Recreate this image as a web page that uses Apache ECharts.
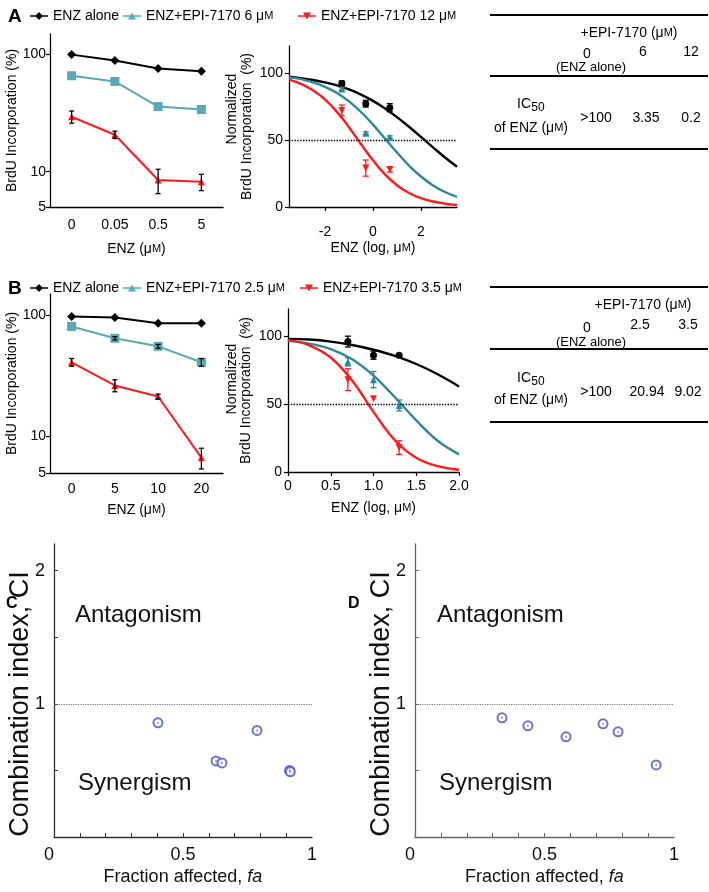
<!DOCTYPE html>
<html><head><meta charset="utf-8">
<script src="https://cdn.jsdelivr.net/npm/echarts@6/dist/echarts.min.js"></script>
<style>html,body{margin:0;padding:0;background:#fff}#c{width:709px;height:892px}</style>
</head><body><div id="c"></div>
<script>
const FONT = 'Liberation Sans, Arial, sans-serif';
// ---------- Panel A ----------
const aDoseLabels = ['0', '0.05', '0.5', '5'];
const aAloneLeft = [100, 89, 76, 72];
const aEpi6Left = [66, 59, 36, 34];
const aEpi12Left = [29.5, 20.7, 8.5, 8.2];
const aEpi12LeftErr = [3.5, 1.5, 2, 1.3];
const aLogDose = [-1.3, -0.3, 0.7];
const aAloneNorm = [92, 77, 74];
const aAloneNormErr = [2, 2.5, 3];
const aEpi6Norm = [88, 55, 52];
const aEpi6NormErr = [1, 1, 1];
const aEpi12Norm = [72, 29, 28];
const aEpi12NormErr = [4, 6, 2];
const aCurveX = [-3.5, -3, -2.5, -2, -1.5, -1, -0.5, 0, 0.5, 1, 1.5, 2, 2.5, 3, 3.5];
const aAloneCurve = [97.1, 96.1, 94.7, 92.9, 90.6, 87.6, 83.8, 79.1, 73.5, 67.0, 59.8, 52.2, 44.4, 36.9, 30.0];
const aEpi6Curve = [96.8, 95.3, 92.9, 89.6, 85.0, 78.7, 70.8, 61.4, 51.0, 40.6, 30.9, 22.7, 16.1, 11.2, 7.6];
const aEpi12Curve = [94.9, 91.8, 87.0, 80.2, 70.9, 59.5, 46.9, 34.8, 24.3, 16.2, 10.4, 6.6, 4.1, 2.5, 1.5];
const aTicksX = [-2, 0, 2];
// ---------- Panel B ----------
const bDoseLabels = ['0', '5', '10', '20'];
const bAloneLeft = [98, 96, 86, 86];
const bEpi25Left = [81, 64.6, 55.5, 41];
const bEpi25LeftErr = [0, 2, 2, 3];
const bEpi35Left = [41, 26.4, 21.4, 6.7];
const bEpi35LeftErr = [3, 3, 1, 1.3];
const bLogDose = [0.7, 1.0, 1.3];
const bAloneNorm = [96, 86, 86];
const bAloneNormErr = [4, 3, 1];
const bEpi25Norm = [81, 68, 49];
const bEpi25NormErr = [3, 6, 4];
const bEpi35Norm = [68, 54, 18];
const bEpi35NormErr = [8, 0, 5];
const bCurveX = [0, 0.25, 0.5, 0.75, 1, 1.25, 1.5, 1.75, 2];
const bAloneCurve = [98, 97.5, 96, 93.5, 90, 85.5, 79.5, 72, 63];
const bEpi25Curve = [96.5, 94.5, 90.5, 83, 71, 55, 38, 23, 13];
const bEpi35Curve = [97.3, 93.3, 84.3, 67.4, 44.3, 23.4, 10.5, 4.3, 1.7];
const bTicksX = [0, 0.5, 1, 1.5, 2];
// ---------- Log-axis & norm ticks ----------
const logTicks = [5, 10, 100];
const normTicks = [0, 50, 100];
// ---------- Panels C / D ----------
const cFa = [0.403, 0.628, 0.651, 0.787, 0.913, 0.916];
const cCI = [0.857, 0.571, 0.556, 0.80, 0.50, 0.49];
const dFa = [0.336, 0.436, 0.583, 0.726, 0.784, 0.931];
const dCI = [0.895, 0.835, 0.752, 0.85, 0.79, 0.541];
const ciLabelTicks = [1, 2];
const ciTicks = [0.5, 1, 1.5, 2];
const faLabelTicks = [0, 0.5, 1];
const faTicks = [0.1, 0.2, 0.3, 0.4, 0.5, 0.6, 0.7, 0.8, 0.9];
// ---------- Tables ----------
const aTableConc = ['0', '6', '12'];
const aTableIC50 = ['>100', '3.35', '0.2'];
const bTableConc = ['0', '2.5', '3.5'];
const bTableIC50 = ['>100', '20.94', '9.02'];

const NAMES = {
  alone: 'ENZ alone',
  a6: 'ENZ+EPI-7170 6 μM',
  a12: 'ENZ+EPI-7170 12 μM',
  b25: 'ENZ+EPI-7170 2.5 μM',
  b35: 'ENZ+EPI-7170 3.5 μM'
};
const BLACK = '#000', TEAL_L = '#58a9b5', TEAL = '#2d8797', RED = '#ff1a1a', BLUE = '#4c4cd2';
const RICH = { m: { fontSize: 11, fontFamily: FONT, color: '#000' }, i: { fontSize: 18, fontStyle: 'italic', fontFamily: FONT, color: '#111' } };
const mu = s => s.replace('μM', 'μ{m|M}');

const chart = echarts.init(document.getElementById('c'));

function zip(xs, ys) { return ys.map((v, i) => [xs[i], v]); }
function idx(n) { return Array.from({ length: n }, (_, i) => i); }

function errSeries(xi, xs, ys, es, color, cap) {
  const data = [];
  ys.forEach((v, i) => { if (es[i] > 0) data.push([xs[i], v - es[i], v + es[i]]); });
  return {
    type: 'custom', xAxisIndex: xi, yAxisIndex: xi, data, z: 4, silent: true,
    encode: { x: 0, y: [1, 2] },
    renderItem(params, api) {
      const x = api.value(0), lo = api.value(1), hi = api.value(2);
      const a = api.coord([x, hi]), b = api.coord([x, lo]);
      const st = { stroke: color, lineWidth: 1.3 };
      return { type: 'group', children: [
        { type: 'line', shape: { x1: a[0], y1: a[1], x2: b[0], y2: b[1] }, style: st },
        { type: 'line', shape: { x1: a[0] - cap, y1: a[1], x2: a[0] + cap, y2: a[1] }, style: st },
        { type: 'line', shape: { x1: b[0] - cap, y1: b[1], x2: b[0] + cap, y2: b[1] }, style: st }
      ] };
    }
  };
}
function leftLine(xi, name, data, color, symbol, size) {
  return { type: 'line', name, xAxisIndex: xi, yAxisIndex: xi, data, symbol, symbolSize: size,
    itemStyle: { color }, lineStyle: { color, width: 2 }, z: 3 };
}
function curve(xi, name, xs, ys, color) {
  return { type: 'line', name, xAxisIndex: xi, yAxisIndex: xi, data: zip(xs, ys), smooth: 0.4,
    showSymbol: false, symbol: 'none', itemStyle: { color }, lineStyle: { color, width: 2.4 }, z: 2 };
}
function pts(xi, name, xs, ys, color, symbol, size, rot) {
  return { type: 'scatter', name, xAxisIndex: xi, yAxisIndex: xi, data: zip(xs, ys), symbol, symbolSize: size,
    symbolRotate: rot || 0, itemStyle: { color, opacity: 1 }, z: 5 };
}

const axisLine = { show: true, onZero: false, lineStyle: { color: '#000', width: 1.3 } };
const txt = { fontSize: 14, fontFamily: FONT, color: '#000' };

function catX(gi, labels, margin, gap) {
  return { type: 'category', gridIndex: gi, data: labels, boundaryGap: true, axisLine,
    axisTick: { show: false }, axisLabel: Object.assign({ margin, interval: 0 }, txt), splitLine: { show: false },
    name: 'ENZ (μ{m|M})', nameLocation: 'middle', nameGap: gap, nameTextStyle: Object.assign({ rich: RICH }, txt) };
}
function logY(gi) {
  return { type: 'log', gridIndex: gi, logBase: 10, min: 5, max: 150, axisLine,
    axisTick: { show: true, length: 4, customValues: logTicks, lineStyle: { color: '#000', width: 1.2 } },
    axisLabel: Object.assign({ margin: 4, customValues: logTicks }, txt), splitLine: { show: false }, minorTick: { show: false },
    name: 'BrdU Incorporation (%)', nameLocation: 'middle', nameGap: 31, nameTextStyle: txt };
}
function valX(gi, min, max, ticks, margin, gap, fmt) {
  return { type: 'value', gridIndex: gi, min, max, axisLine,
    axisTick: { show: true, length: 4, customValues: ticks, lineStyle: { color: '#000', width: 1.2 } },
    axisLabel: Object.assign({ margin, customValues: ticks, formatter: fmt }, txt), splitLine: { show: false },
    name: 'ENZ (log, μ{m|M})', nameLocation: 'middle', nameGap: gap, nameTextStyle: Object.assign({ rich: RICH }, txt) };
}
function normY(gi) {
  return { type: 'value', gridIndex: gi, min: 0, max: 120, axisLine,
    axisTick: { show: true, length: 4, customValues: normTicks, lineStyle: { color: '#000', width: 1.2 } },
    axisLabel: Object.assign({ margin: 6, customValues: normTicks }, txt), splitLine: { show: false },
    name: 'BrdU Incorporation  (%)', nameLocation: 'middle', nameGap: 35, nameTextStyle: txt };
}
function ciX(gi, color) {
  return { type: 'value', gridIndex: gi, min: 0, max: 1,
    axisLine: { show: true, onZero: false, lineStyle: { color, width: 1.3 } },
    axisTick: { show: true, inside: true, length: 4, customValues: faTicks, lineStyle: { color, width: 1 } },
    axisLabel: { margin: 9, customValues: faLabelTicks, fontSize: 18, fontFamily: FONT, color: '#111', alignMinLabel: 'right', formatter: v => String(v) },
    splitLine: { show: false },
    name: 'Fraction affected, {i|fa}', nameLocation: 'middle', nameGap: 31,
    nameTextStyle: { fontSize: 18, fontFamily: FONT, color: '#111', rich: RICH } };
}
function ciY(gi, color) {
  return { type: 'value', gridIndex: gi, min: 0, max: 2.2,
    axisLine: { show: true, onZero: false, lineStyle: { color, width: 1.3 } },
    axisTick: { show: true, inside: true, length: 4, customValues: ciTicks, lineStyle: { color, width: 1 } },
    axisLabel: { margin: 9, customValues: ciLabelTicks, fontSize: 18, fontFamily: FONT, color: '#111' },
    splitLine: { show: false } };
}
function ciSeries(xi, fa, ci) {
  return [
    { type: 'scatter', xAxisIndex: xi, yAxisIndex: xi, data: zip(fa, ci), symbol: 'emptyCircle', symbolSize: 9,
      itemStyle: { color: BLUE, borderColor: BLUE, borderWidth: 1 }, z: 3,
      markLine: { silent: true, symbol: 'none', label: { show: false },
        lineStyle: { color: '#777', type: 'dotted', width: 1.2 }, data: [{ yAxis: 1 }] } },
    { type: 'scatter', xAxisIndex: xi, yAxisIndex: xi, data: zip(fa, ci), symbol: 'circle', symbolSize: 1.8,
      itemStyle: { color: BLUE }, z: 4 }
  ];
}
const half = { silent: true, symbol: 'none', label: { show: false },
  lineStyle: { color: '#000', type: 'dotted', width: 1.4 }, data: [{ yAxis: 50 }] };

const DIAMOND = 'path://M0,3.3h18v1.4H0z M9,0L13,4L9,8L5,4z';
const TRI_UP = 'path://M0,3.3h18v1.4H0z M9,0.5L13,7.5L5,7.5z';
const TRI_DN = 'path://M0,3.3h18v1.4H0z M5,0.5L13,0.5L9,7.5z';
function leg(left, top, name, icon) {
  return { left, top, padding: 0, itemWidth: 18, itemHeight: 8, selectedMode: false,
    data: [{ name, icon }], formatter: mu,
    textStyle: Object.assign({ rich: RICH }, txt) };
}

const series = [
  // A left
  leftLine(0, NAMES.alone, aAloneLeft, BLACK, 'diamond', 9),
  leftLine(0, NAMES.a6, aEpi6Left, TEAL_L, 'rect', 9),
  leftLine(0, NAMES.a12, aEpi12Left, RED, 'triangle', 7),
  errSeries(0, idx(4), aEpi12Left, aEpi12LeftErr, BLACK, 2.5),
  // A middle
  Object.assign(curve(1, NAMES.alone, aCurveX, aAloneCurve, BLACK), { markLine: half }),
  curve(1, NAMES.a6, aCurveX, aEpi6Curve, TEAL),
  curve(1, NAMES.a12, aCurveX, aEpi12Curve, RED),
  pts(1, NAMES.alone, aLogDose, aAloneNorm, BLACK, 'circle', 7),
  pts(1, NAMES.a6, aLogDose, aEpi6Norm, TEAL, 'triangle', 7),
  pts(1, NAMES.a12, aLogDose, aEpi12Norm, RED, 'triangle', 7, 180),
  errSeries(1, aLogDose, aAloneNorm, aAloneNormErr, BLACK, 3),
  errSeries(1, aLogDose, aEpi6Norm, aEpi6NormErr, TEAL, 3),
  errSeries(1, aLogDose, aEpi12Norm, aEpi12NormErr, RED, 3),
  // B left
  leftLine(2, NAMES.alone, bAloneLeft, BLACK, 'diamond', 9),
  leftLine(2, NAMES.b25, bEpi25Left, TEAL_L, 'rect', 9),
  leftLine(2, NAMES.b35, bEpi35Left, RED, 'triangle', 7),
  errSeries(2, idx(4), bEpi25Left, bEpi25LeftErr, BLACK, 2.5),
  errSeries(2, idx(4), bEpi35Left, bEpi35LeftErr, BLACK, 2.5),
  // B middle
  Object.assign(curve(3, NAMES.alone, bCurveX, bAloneCurve, BLACK), { markLine: half }),
  curve(3, NAMES.b25, bCurveX, bEpi25Curve, TEAL),
  curve(3, NAMES.b35, bCurveX, bEpi35Curve, RED),
  pts(3, NAMES.alone, bLogDose, bAloneNorm, BLACK, 'circle', 7),
  pts(3, NAMES.b25, bLogDose, bEpi25Norm, TEAL, 'triangle', 7),
  pts(3, NAMES.b35, bLogDose, bEpi35Norm, RED, 'triangle', 7, 180),
  errSeries(3, bLogDose, bAloneNorm, bAloneNormErr, BLACK, 3),
  errSeries(3, bLogDose, bEpi25Norm, bEpi25NormErr, TEAL, 3),
  errSeries(3, bLogDose, bEpi35Norm, bEpi35NormErr, RED, 3),
  // C, D
  ...ciSeries(4, cFa, cCI),
  ...ciSeries(5, dFa, dCI)
];

function T(x, y, text, o) {
  o = o || {};
  return { type: 'text', x, y, rotation: o.rot || 0, silent: true,
    style: { text, fontSize: o.size || 14, fontFamily: FONT, fontWeight: o.bold ? 'bold' : 'normal',
      fill: o.color || '#000', align: o.align || 'center', verticalAlign: 'middle', rich: RICH } };
}
function L(x1, y, x2) {
  return { type: 'line', silent: true, shape: { x1, y1: y, x2, y2: y }, style: { stroke: '#000', lineWidth: 2 } };
}
function table(lines, headX, headY, concX, concY, zeroY, aloneY, ic50Y, ofY, valY, conc, vals) {
  return [L(490, lines[0], 708), L(490, lines[1], 708), L(490, lines[2], 708),
    T(headX, headY, '+EPI-7170 (μ{m|M})'),
    T(587, zeroY, conc[0]), T(591, aloneY, '(ENZ alone)', { size: 13 }),
    T(concX[0], concY, conc[1]), T(concX[1], concY, conc[2]),
    T(524, ic50Y, 'IC'), T(538, ic50Y + 4, '50', { size: 12 }),
    T(531, ofY, 'of ENZ (μ{m|M})'),
    T(596, valY, vals[0]), T(concX[2], valY, vals[1]), T(concX[3], valY, vals[2])];
}

const graphic = [
  T(8, 17, 'A', { size: 19, bold: true, align: 'left' }),
  T(8, 289, 'B', { size: 19, bold: true, align: 'left' }),
  T(6, 604, 'C', { size: 16, bold: true, align: 'left' }),
  T(348, 604, 'D', { size: 16, bold: true, align: 'left' }),
  T(232, 109, 'Normalized', { rot: Math.PI / 2 }),
  T(232, 379, 'Normalized', { rot: Math.PI / 2 }),
  T(21, 704, 'Combination index, CI', { rot: Math.PI / 2, size: 27, color: '#111' }),
  T(382, 704, 'Combination index, CI', { rot: Math.PI / 2, size: 27, color: '#111' }),
  T(75, 615, 'Antagonism', { size: 24, align: 'left', color: '#111' }),
  T(78, 783, 'Synergism', { size: 24, align: 'left', color: '#111' }),
  T(437, 615, 'Antagonism', { size: 24, align: 'left', color: '#111' }),
  T(439, 783, 'Synergism', { size: 24, align: 'left', color: '#111' }),
  ...table([15, 76, 149], 629, 33, [643, 691, 646, 691], 52, 54, 67, 104, 128, 118, aTableConc, aTableIC50),
  ...table([287, 349, 422], 643, 305, [640, 688, 647, 688], 325, 328, 342, 378, 400, 392, bTableConc, bTableIC50)
];

chart.setOption({
  animation: false,
  backgroundColor: '#fff',
  textStyle: { fontFamily: FONT },
  legend: [
    leg(30, 9, NAMES.alone, DIAMOND), leg(123, 9, NAMES.a6, TRI_UP), leg(298, 9, NAMES.a12, TRI_DN),
    leg(30, 281, NAMES.alone, DIAMOND), leg(123, 281, NAMES.b25, TRI_UP), leg(300, 281, NAMES.b35, TRI_DN)
  ],
  grid: [
    { left: 50, top: 34, width: 173, height: 173 },
    { left: 289, top: 46, width: 168, height: 161 },
    { left: 50, top: 294, width: 173, height: 179 },
    { left: 288, top: 309, width: 171, height: 163 },
    { left: 54, top: 544, width: 258, height: 293 },
    { left: 415, top: 544, width: 259, height: 293 }
  ],
  xAxis: [
    catX(0, aDoseLabels, 11, 35),
    valX(1, -3.5, 3.5, aTicksX, 18, 34, v => String(v)),
    catX(2, bDoseLabels, 9, 30),
    valX(3, 0, 2, bTicksX, 7, 29, v => (v === 0 ? '0' : v.toFixed(1))),
    ciX(4, '#333'),
    ciX(5, '#666')
  ],
  yAxis: [logY(0), normY(1), logY(2), normY(3), ciY(4, '#333'), ciY(5, '#666')],
  series,
  graphic
});
</script></body></html>
